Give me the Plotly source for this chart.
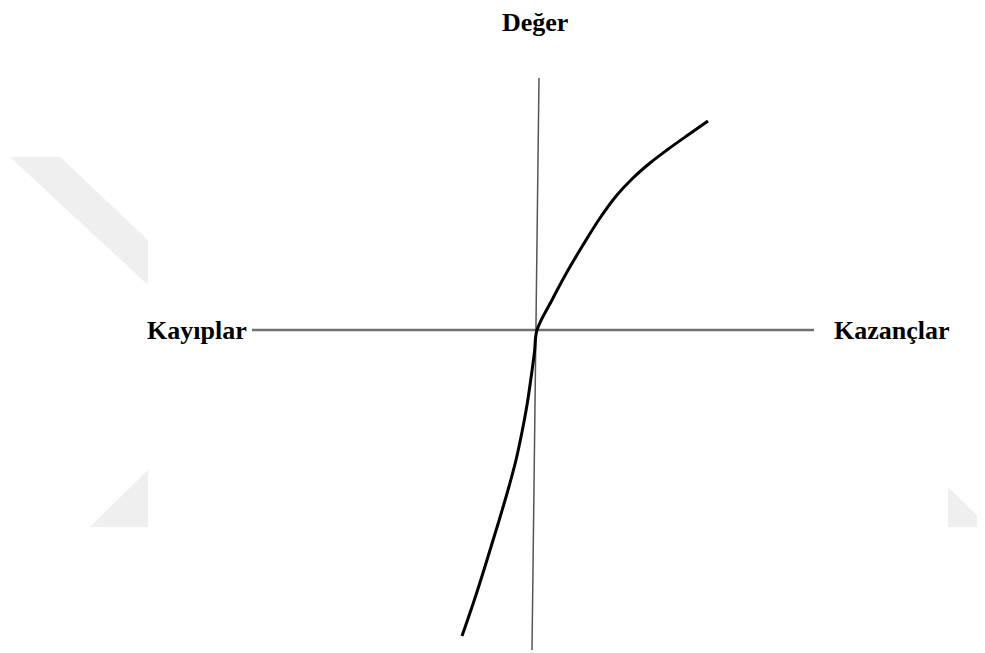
import plotly.graph_objects as go

# Value function (prospect theory) - axis units: gains/losses (x) and value (y)
curve_x = [-7.5, -6.2, -5.0, -3.9, -2.9, -2.1, -1.5, -1.0, -0.6, -0.25, 0.0,
           1.5, 3.0, 4.6, 6.3, 8.0, 9.6, 11.3, 13.0, 15.1, 17.1]
curve_y = [-30.6, -26.8, -23.0, -19.4, -16.0, -13.0, -10.2, -7.5, -4.8, -2.2, 0.0,
           3.0, 5.8, 8.5, 11.2, 13.5, 15.2, 16.7, 18.0, 19.5, 20.9]

# Axis lines
h_axis_x = [-28.5, 27.7]
h_axis_y = [0.0, 0.0]
v_axis_x = [0.2, -0.5]
v_axis_y = [25.2, -32.0]

labels = ["Değer", "Kayıplar", "Kazançlar"]
label_x = [-0.2, -34.0, 35.5]
label_y = [30.8, 0.0, 0.0]

W, H = 985, 653
PAGE_OFFSET = 8          # default page body margin in the browser
ORIGIN_PX = (537 - PAGE_OFFSET, 330 - PAGE_OFFSET)
SCALE = 10.0

fig = go.Figure()

# faint watermark shapes (background decoration), page-pixel polygons
watermark = [
    [(10, 157), (60, 157), (148, 240), (148, 285)],
    [(90, 527), (148, 470), (148, 527)],
    [(948, 487), (993, 531), (993, 527), (948, 527)],
]
for poly in watermark:
    path = "M " + " L ".join(
        f"{(px - PAGE_OFFSET) / W:.4f},{1 - (py - PAGE_OFFSET) / H:.4f}" for px, py in poly) + " Z"
    fig.add_shape(type="path", path=path, xref="paper", yref="paper",
                  fillcolor="#efefef", line=dict(width=0), layer="below")

fig.add_trace(go.Scatter(x=h_axis_x, y=h_axis_y, mode="lines",
                         line=dict(color="#707070", width=2.5), hoverinfo="skip"))
fig.add_trace(go.Scatter(x=v_axis_x, y=v_axis_y, mode="lines",
                         line=dict(color="#555555", width=1.5), hoverinfo="skip"))
fig.add_trace(go.Scatter(x=curve_x, y=curve_y, mode="lines",
                         line=dict(color="#000000", width=3, shape="spline", smoothing=1.0),
                         hoverinfo="skip"))

for t, x, y in zip(labels, label_x, label_y):
    fig.add_annotation(x=x, y=y, text=f"<b>{t}</b>", showarrow=False,
                       font=dict(family="Liberation Serif, Times New Roman, serif",
                                 size=26, color="#000000"),
                       xanchor="center", yanchor="middle")

fig.update_layout(
    width=W, height=H,
    margin=dict(l=0, r=0, t=0, b=0),
    paper_bgcolor="white", plot_bgcolor="white",
    showlegend=False,
    xaxis=dict(range=[-ORIGIN_PX[0] / SCALE, (W - ORIGIN_PX[0]) / SCALE],
               visible=False, fixedrange=True),
    yaxis=dict(range=[(ORIGIN_PX[1] - H) / SCALE, ORIGIN_PX[1] / SCALE],
               visible=False, fixedrange=True),
)

fig.write_html("out.html")
